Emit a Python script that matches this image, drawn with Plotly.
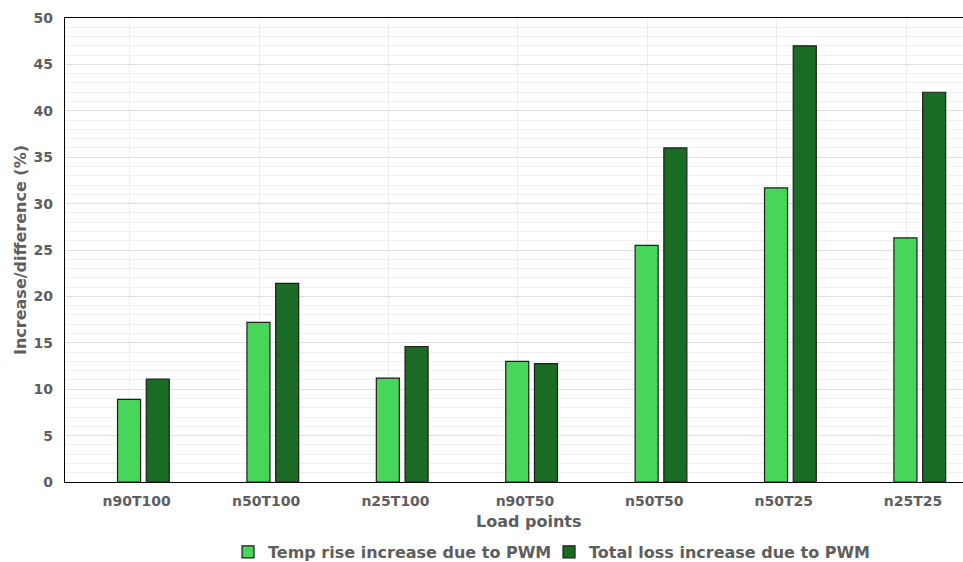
import plotly.graph_objects as go

# Load points on the x axis
load_points = ["n90T100", "n50T100", "n25T100", "n90T50", "n50T50", "n50T25", "n25T25"]

# Percentage increase caused by PWM supply, per load point
temp_rise_increase = [8.9, 17.2, 11.2, 13.0, 25.5, 31.7, 26.3]
total_loss_increase = [11.1, 21.4, 14.6, 12.75, 36.0, 47.0, 42.0]

series_names = ["Temp rise increase due to PWM", "Total loss increase due to PWM"]
series_colors = ["#47d55a", "#1a6b24"]

TEXT_COLOR = "#5e5e5e"
FONT = "DejaVu Sans"
BAR_W = 0.178

fig = go.Figure()
for name, values, color, off in zip(series_names,
                                    [temp_rise_increase, total_loss_increase],
                                    series_colors, [-0.094, 0.128]):
    fig.add_trace(go.Bar(
        x=load_points, y=values, name=name,
        width=BAR_W, offset=off,
        marker=dict(color=color, line=dict(color="#1e1e1e", width=1.2)),
    ))

fig.update_layout(
    width=963, height=562,
    margin=dict(l=65, r=0, t=18, b=80, autoexpand=False),
    paper_bgcolor="white", plot_bgcolor="white",
    font=dict(family=FONT, color=TEXT_COLOR),
    barmode="overlay",
    showlegend=True,
    legend=dict(orientation="h", x=0.539, xanchor="center",
                yref="container", y=0.018, yanchor="middle",
                font=dict(size=16, weight="bold", color=TEXT_COLOR),
                itemwidth=30, entrywidth=276, traceorder="normal"),
    xaxis=dict(
        type="category", range=[-0.5, 6.44],
        showgrid=True, gridcolor="#eeeeee", gridwidth=1,
        showline=True, linecolor="black", linewidth=1.3, mirror=True,
        ticks="", tickfont=dict(size=14, weight="bold", color=TEXT_COLOR),
        ticklabelstandoff=6, ticklabelshift=7,
        zeroline=False,
    ),
    # category boundaries carry slightly darker vertical grid lines
    xaxis2=dict(
        overlaying="x", anchor="y", range=[-0.5, 6.44],
        tick0=0.5, dtick=1, showgrid=True, gridcolor="#dcdcdc", gridwidth=1,
        showticklabels=False, ticks="", showline=False, zeroline=False,
    ),
    yaxis=dict(
        range=[0, 50], dtick=5, tick0=0,
        showgrid=True, gridcolor="#dfdfdf", gridwidth=1,
        minor=dict(dtick=1, showgrid=True, gridcolor="#f1f1f1", gridwidth=1),
        showline=True, linecolor="black", linewidth=1.3,
        ticks="", tickfont=dict(size=14, weight="bold", color=TEXT_COLOR),
        ticklabelstandoff=8,
        zeroline=False,
        title=dict(text="Increase/difference (%)", standoff=2,
                   font=dict(size=16, weight="bold", color=TEXT_COLOR)),
    ),
    annotations=[dict(
        text="Load points", xref="paper", yref="paper", x=0.517, y=-0.085,
        xanchor="center", yanchor="middle", showarrow=False,
        font=dict(size=16, weight="bold", color=TEXT_COLOR),
    )],
)

fig.write_html("out.html")
